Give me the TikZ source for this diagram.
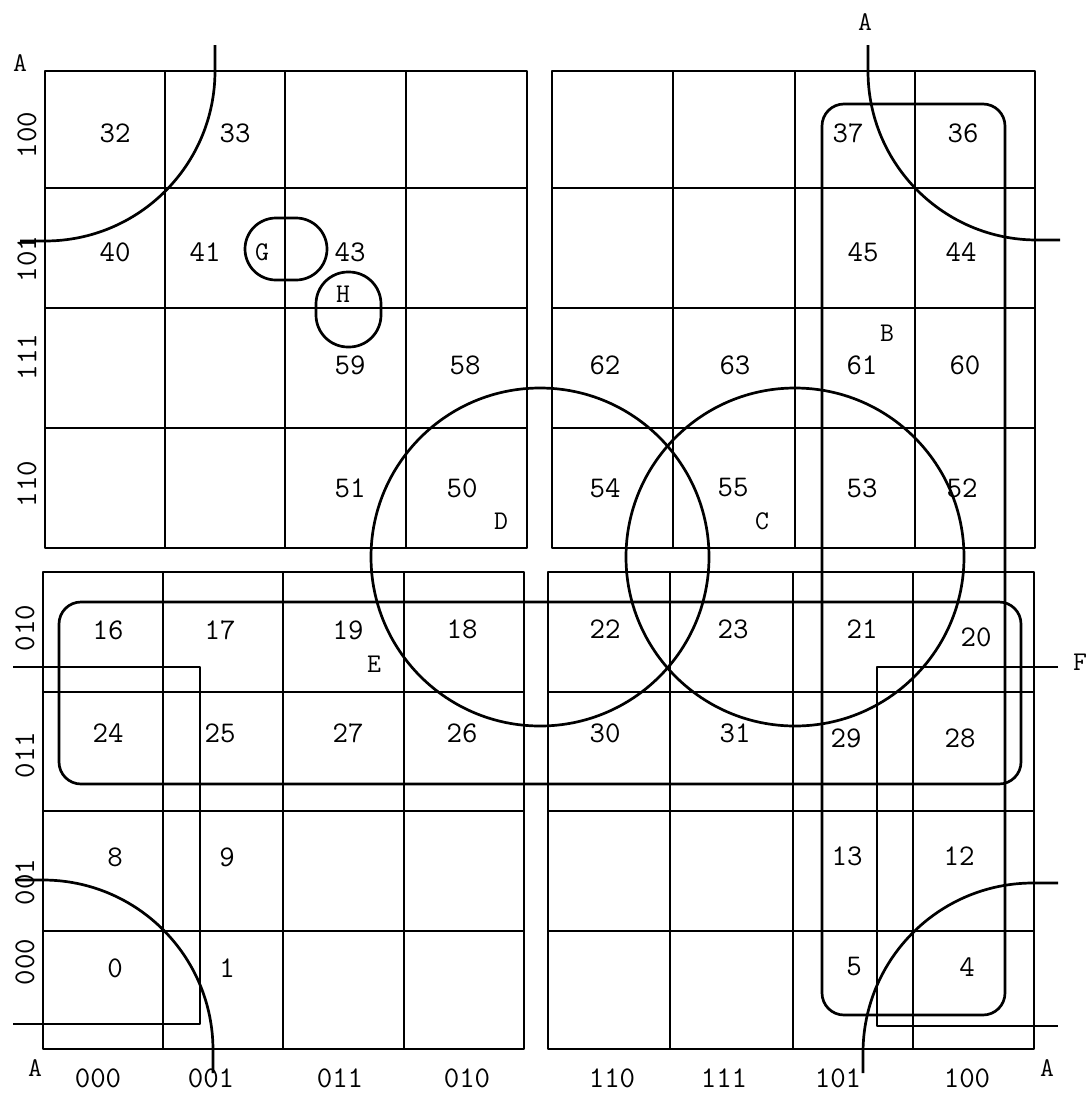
\documentclass[tikz,border=0pt]{standalone}
\begin{document}
\begin{tikzpicture}[x=1pt,y=-1pt,line width=2.7pt,line join=round,
  num/.style={font=\fontsize{30}{32}\selectfont\ttfamily,inner sep=0pt},
  let/.style={font=\fontsize{27}{30}\selectfont\ttfamily,inner sep=0pt},
  side/.style={num,rotate=90}]
\useasboundingbox (0,0) rectangle (1088,1093);
% grids
\draw (45,71) rectangle (527,548);
\foreach \x in {165,285,406} \draw (\x,71) -- (\x,548);
\foreach \y in {188,308,428} \draw (45,\y) -- (527,\y);
\draw (552,71) rectangle (1035,548);
\foreach \x in {673,795,915} \draw (\x,71) -- (\x,548);
\foreach \y in {188,308,428} \draw (552,\y) -- (1035,\y);
\draw (43,572) rectangle (524,1049);
\foreach \x in {163,283,404} \draw (\x,572) -- (\x,1049);
\foreach \y in {692,811,931} \draw (43,\y) -- (524,\y);
\draw (548,572) rectangle (1034,1049);
\foreach \x in {670,793,913} \draw (\x,572) -- (\x,1049);
\foreach \y in {692,811,931} \draw (548,\y) -- (1034,\y);
% corner arcs A
\draw (215,45) -- (215,71) arc[start angle=0,end angle=90,radius=170] -- (20,241);
\draw (868,45) -- (868,71) arc[start angle=180,end angle=90,radius=169] -- (1060,240);
\draw (15,880) -- (43,880) arc[start angle=270,end angle=360,radius=170] -- (213,1073);
\draw (1058,883) -- (1033,883) arc[start angle=270,end angle=180,radius=170] -- (863,1073);
% circles D and C
\draw (540,557) circle[radius=169];
\draw (795,557) circle[radius=169];
% rounded loops
\draw[rounded corners=22pt] (822,104) rectangle (1005,1015);
\draw[rounded corners=22pt] (59,602) rectangle (1021,784);
\draw[rounded corners=31pt] (245,218) rectangle (327,280);
\draw[rounded corners=32pt] (316,272) rectangle (381,347);
% F brackets
\draw (13,667) -- (200,667) -- (200,1024) -- (13,1024);
\draw (1058,667) -- (877,667) -- (877,1026) -- (1058,1026);
% cell numbers
\node[num] (n32) at (115,133) {32};
\node[num] (n33) at (235,133) {33};
\node[num] (n40) at (115,252) {40};
\node[num] (n41) at (205,252) {41};
\node[num] (n43) at (350,252) {43};
\node[num] (n59) at (350,365) {59};
\node[num] (n58) at (465,365) {58};
\node[num] (n51) at (350,488) {51};
\node[num] (n50) at (462,488) {50};
\node[num] (n37) at (848,133) {37};
\node[num] (n36) at (963,133) {36};
\node[num] (n45) at (863,252) {45};
\node[num] (n44) at (961,252) {44};
\node[num] (n62) at (605,365) {62};
\node[num] (n63) at (735,365) {63};
\node[num] (n61) at (862,365) {61};
\node[num] (n60) at (965,365) {60};
\node[num] (n54) at (605,488) {54};
\node[num] (n55) at (733,488) {55};
\node[num] (n53) at (862,488) {53};
\node[num] (n52) at (962,488) {52};
\node[num] (n16) at (108,630) {16};
\node[num] (n17) at (220,630) {17};
\node[num] (n19) at (348,630) {19};
\node[num] (n18) at (462,629) {18};
\node[num] (n24) at (108,733) {24};
\node[num] (n25) at (220,733) {25};
\node[num] (n27) at (348,733) {27};
\node[num] (n26) at (462,733) {26};
\node[num] (n8) at (115,857) {8};
\node[num] (n9) at (227,857) {9};
\node[num] (n0) at (115,968) {0};
\node[num] (n1) at (227,968) {1};
\node[num] (n22) at (605,629) {22};
\node[num] (n23) at (733,629) {23};
\node[num] (n21) at (862,629) {21};
\node[num] (n20) at (976,637) {20};
\node[num] (n30) at (605,733) {30};
\node[num] (n31) at (735,733) {31};
\node[num] (n29) at (846,738) {29};
\node[num] (n28) at (960,738) {28};
\node[num] (n13) at (847,856) {13};
\node[num] (n12) at (959,856) {12};
\node[num] (n5) at (854,967) {5};
\node[num] (n4) at (967,967) {4};
% letters
\node[let] (lG) at (262,252) {G};
\node[let] (lH) at (343,294) {H};
\node[let] (lD) at (501,521) {D};
\node[let] (lC) at (762,521) {C};
\node[let] (lB) at (887,333) {B};
\node[let] (lE) at (374,664) {E};
\node[let] (lF) at (1080,662) {F};
\node[let] (lA1) at (20,63) {A};
\node[let] (lA2) at (865,22) {A};
\node[let] (lA3) at (35,1068) {A};
\node[let] (lA4) at (1047,1068) {A};
% bottom labels
\node[num] (b1) at (98,1078) {000};
\node[num] (b2) at (211,1078) {001};
\node[num] (b3) at (340,1078) {011};
\node[num] (b4) at (467,1078) {010};
\node[num] (b5) at (612,1078) {110};
\node[num] (b6) at (724,1078) {111};
\node[num] (b7) at (838,1078) {101};
\node[num] (b8) at (967,1078) {100};
% side labels
\node[side] (s1) at (27,135) {100};
\node[side] (s2) at (27,259) {101};
\node[side] (s3) at (27,357) {111};
\node[side] (s4) at (27,484) {110};
\node[side] (s5) at (25,628) {010};
\node[side] (s6) at (25,755) {011};
\node[side] (s7) at (25,882) {001};
\node[side] (s8) at (25,962) {000};
\end{tikzpicture}
\end{document}
